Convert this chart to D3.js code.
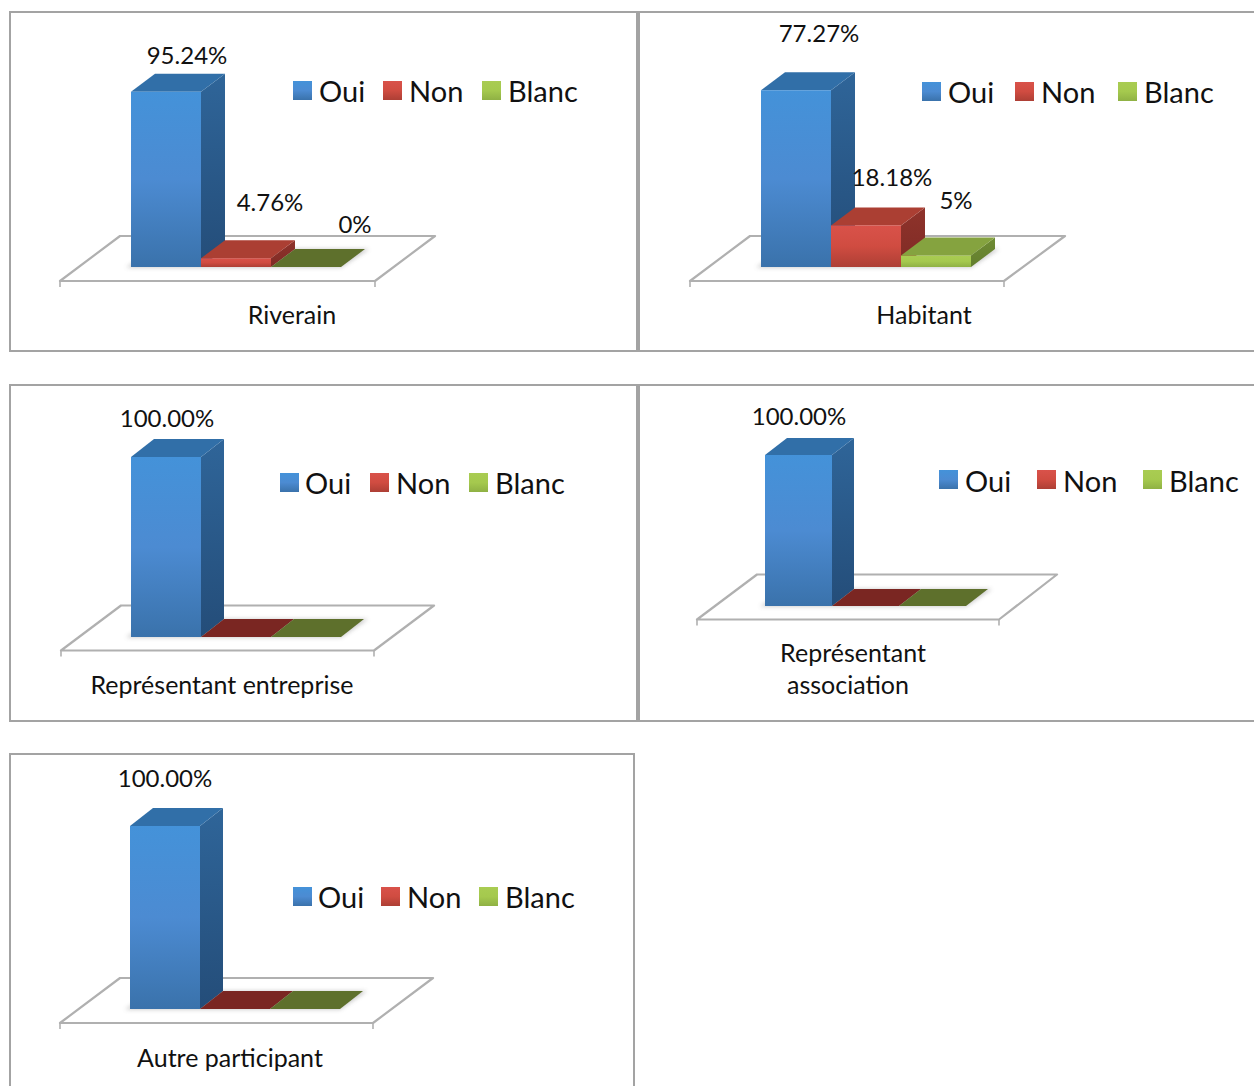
<!DOCTYPE html>
<html><head><meta charset="utf-8">
<script src="https://cdn.jsdelivr.net/npm/d3@7"></script>
<style>html,body{margin:0;padding:0;background:#fff;overflow:hidden}svg{display:block}text{font-family:Lato,sans-serif;fill:#111}</style>
</head><body><svg id="c" width="1254" height="1086"></svg>
<script>
const categories = ["Riverain","Habitant","Représentant entreprise","Représentant association","Autre participant"];
const seriesNames = ["Oui","Non","Blanc"];
const oui = [95.24,77.27,100,100,100];
const non = [4.76,18.18,0,0,0];
const blanc = [0,5,0,0,0];
const valueLabels = [["95.24%","4.76%","0%"],["77.27%","18.18%","5%"],["100.00%","",""],["100.00%","",""],["100.00%","",""]];
const axisMax = [100,80,100,100,100];

const layouts = [
 {box:[10,12,627,339],x0:131,bw:70,base:267,h:184,dx:24,dy:18,floor:[60,375,281,60,60,45],
  vl:[[187,64],[270,211],[355,233]],leg:[[293,319],[383,409],[482,508]],legY:81,legT:21,lab:[[292,324]]},
 {box:[639,12,640,339],x0:761,bw:70,base:267,h:183,dx:24,dy:18,floor:[690,1004,281,60,61,45],
  vl:[[819,42],[892,186],[956,209]],leg:[[922,948],[1015,1041],[1118,1144]],legY:82,legT:21,lab:[[924,324]]},
 {box:[10,385,627,336],x0:131,bw:70,base:637,h:180,dx:23,dy:18,floor:[61,374,650.5,60,60,45],
  vl:[[167,427]],leg:[[280,305],[370,396],[469,495]],legY:473,legT:21,lab:[[222,694]]},
 {box:[639,385,640,336],x0:765,bw:67,base:606,h:151,dx:22,dy:17,floor:[697,999,619.5,60,58,45],
  vl:[[799,425]],leg:[[939,965],[1037,1063],[1143,1169]],legY:470,legT:22,lab:[[853,662],[848,694]]},
 {box:[10,754,624,345],x0:130,bw:70,base:1009,h:183,dx:23,dy:18,floor:[60,373,1023,60,60,45],
  vl:[[165,787]],leg:[[293,318],[381,407],[479,505]],legY:887,legT:21,lab:[[230,1067]]}
];
const wrapped = {3:["Représentant","association"]};
const palette = {
 Oui:{f:["#4492d9","#4c8bd2","#3a72ab"],t:"#316fa8",s:["#2f6599","#244d79"],z:"#316fa8"},
 Non:{f:["#d9524a","#d04c41","#ad3f35"],t:"#ab3f33",s:["#8f332b","#7f2b25"],z:"#7a2622"},
 Blanc:{f:["#a9cc52","#a5c94e","#8fb144"],t:"#85a33f",s:["#6f8c34","#637e2d"],z:"#5e702c"}
};
const svg = d3.select("#c");
const defs = svg.append("defs");
defs.append("filter").attr("id","blur").attr("x","-20%").attr("y","-50%").attr("width","140%").attr("height","200%")
  .append("feGaussianBlur").attr("stdDeviation",2.2);
function grad(id,stops){
  const g=defs.append("linearGradient").attr("id",id).attr("x1",0).attr("y1",0).attr("x2",0).attr("y2",1);
  stops.forEach((c,i)=>g.append("stop").attr("offset",i/(stops.length-1)).attr("stop-color",c));
}
seriesNames.forEach(n=>{grad("f"+n,palette[n].f);grad("s"+n,palette[n].s);});

categories.forEach((cat,i)=>{
  const L=layouts[i], vals=[oui[i],non[i],blanc[i]];
  const g=svg.append("g");
  g.append("rect").attr("x",L.box[0]).attr("y",L.box[1]).attr("width",L.box[2]).attr("height",L.box[3])
    .attr("fill","#fff").attr("stroke","#a3a3a3").attr("stroke-width",2);
  const [fl,fr,fy,oxL,oxR,oy]=L.floor;
  g.append("path").attr("d",`M${fl},${fy}L${fr},${fy}L${fr+oxR},${fy-oy}L${fl+oxL},${fy-oy}Z`)
    .attr("fill","#fff").attr("stroke","#b0b0b0").attr("stroke-width",2.2).attr("stroke-linejoin","round");
  [fl,fr].forEach(x=>g.append("line").attr("x1",x).attr("x2",x).attr("y1",fy).attr("y2",fy+6).attr("stroke","#b0b0b0").attr("stroke-width",1.6));
  const x=d3.scaleBand().domain(seriesNames).range([L.x0,L.x0+3*L.bw]).padding(0);
  const y=d3.scaleLinear().domain([0,axisMax[i]]).range([L.base,L.base-L.h]);
  const {dx,dy}=L;
  g.append("path").attr("d",`M${L.x0-5},${L.base+.5}L${L.x0+3*L.bw},${L.base+.5}L${L.x0+3*L.bw+dx+4},${L.base-dy}L${L.x0+dx},${L.base-dy}Z`)
    .attr("fill","#888").attr("opacity",.45).attr("filter","url(#blur)");
  // left to right: each later bar sits over the side face of the one before it
  seriesNames.map((n,j)=>({n,v:vals[j]})).forEach(d=>{
    const p=palette[d.n], X=x(d.n), W=x.bandwidth(), Y=y(d.v), B=y(0);
    if(d.v===0){
      g.append("path").attr("d",`M${X},${B}L${X+W},${B}L${X+W+dx},${B-dy}L${X+dx},${B-dy}Z`).attr("fill",p.z);
      return;
    }
    g.append("path").attr("d",`M${X+W},${Y}L${X+W+dx},${Y-dy}L${X+W+dx},${B-dy}L${X+W},${B}Z`).attr("fill",`url(#s${d.n})`);
    g.append("path").attr("d",`M${X},${Y}L${X+dx},${Y-dy}L${X+W+dx},${Y-dy}L${X+W},${Y}Z`).attr("fill",p.t);
    g.append("rect").attr("x",X).attr("y",Y).attr("width",W).attr("height",B-Y).attr("fill",`url(#f${d.n})`);
  });
  valueLabels[i].forEach((t,j)=>{ if(!t) return;
    g.append("text").attr("x",L.vl[j][0]).attr("y",L.vl[j][1]).attr("text-anchor","middle").attr("font-size",24).text(t);
  });
  seriesNames.forEach((n,j)=>{
    const [sx,tx]=L.leg[j];
    g.append("rect").attr("x",sx).attr("y",L.legY).attr("width",19).attr("height",19).attr("fill",`url(#f${n})`);
    g.append("text").attr("x",tx).attr("y",L.legY+L.legT).attr("font-size",29).text(n);
  });
  (wrapped[i]||[cat]).forEach((t,k)=>{
    g.append("text").attr("x",L.lab[k][0]).attr("y",L.lab[k][1]).attr("text-anchor","middle").attr("font-size",25).text(t);
  });
});
</script></body></html>
